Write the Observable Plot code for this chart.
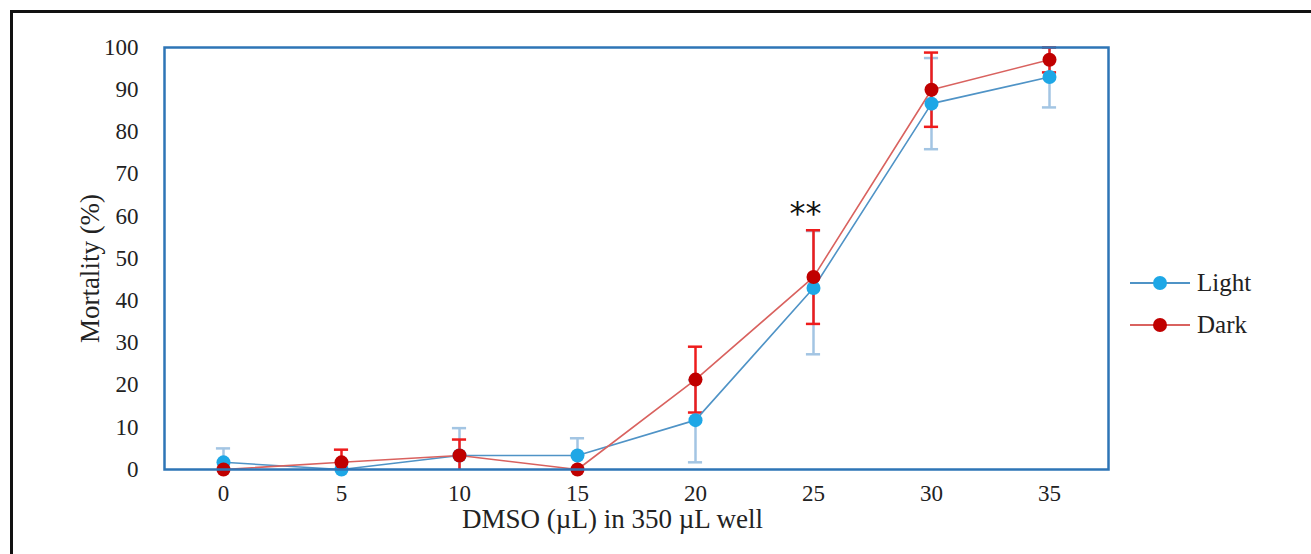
<!DOCTYPE html>
<html>
<head>
<meta charset="utf-8">
<script src="https://cdn.jsdelivr.net/npm/d3@7"></script>
<script src="https://cdn.jsdelivr.net/npm/@observablehq/plot@0.6"></script>
<style>
  html, body { margin: 0; padding: 0; background: #fff; }
  #wrap { position: relative; width: 1311px; height: 554px; overflow: hidden; font-family: "Liberation Serif", "DejaVu Serif", serif; }
  #border { position: absolute; left: 10px; top: 10px; right: -10px; bottom: -10px; border-top: 3px solid #111; border-left: 3px solid #111; pointer-events: none; }
  #legend { position: absolute; left: 1128px; top: 262px; font-size: 25px; color: #222; }
  #legend .row { display: flex; align-items: center; height: 42px; }
  #legend svg { margin-right: 5px; }
</style>
</head>
<body>
<div id="wrap">
  <div id="chart"></div>
  <div id="legend"></div>
  <div id="border"></div>
</div>
<script>
// ---- data ----
const dmso = [0, 5, 10, 15, 20, 25, 30, 35];
const lightMean  = [1.7, 0, 3.3, 3.3, 11.7, 43.0, 86.7, 93.0];
const lightErrHi = [3.3, 0, 6.5, 4.1, 9.5, 13.5, 10.8, 7.2];
const lightErrLo = [3.3, 0, 6.5, 4.1, 10.0, 15.7, 10.8, 7.2];
const darkMean   = [0, 1.7, 3.3, 0, 21.3, 45.6, 90.0, 97.1];
const darkErr    = [0, 3.0, 3.8, 0, 7.8, 11.1, 8.8, 3.0];
const seriesNames = ["Light", "Dark"];
const yTicks = [0, 10, 20, 30, 40, 50, 60, 70, 80, 90, 100];
const xTitle = "DMSO (\u00b5L) in 350 \u00b5L well";
const yTitle = "Mortality (%)";
const annotations = [{x: 25, series: "Dark", text: "**"}];

const colors = {
  Light: {line: "#4f93c6", dot: "#1ea7e6", err: "#a3c5e3"},
  Dark:  {line: "#d9625f", dot: "#c00000", err: "#ee1c1c"}
};

const clamp = v => Math.max(0, Math.min(100, v));
const rows = [];
dmso.forEach((x, i) => {
  rows.push({series: "Light", x, y: lightMean[i], lo: clamp(lightMean[i] - lightErrLo[i]), hi: clamp(lightMean[i] + lightErrHi[i]), err: lightErrLo[i] + lightErrHi[i]});
  rows.push({series: "Dark", x, y: darkMean[i], lo: clamp(darkMean[i] - darkErr[i]), hi: clamp(darkMean[i] + darkErr[i]), err: darkErr[i]});
});
const light = rows.filter(d => d.series === "Light");
const dark = rows.filter(d => d.series === "Dark");
const capHalf = 0.3;

function errMarks(data, c) {
  const withErr = data.filter(d => d.err > 0);
  return [
    Plot.ruleX(withErr, {x: "x", y1: "lo", y2: "hi", stroke: c.err, strokeWidth: 2.5}),
    Plot.ruleY(withErr.filter(d => d.hi > d.y), {x1: d => d.x - capHalf, x2: d => d.x + capHalf, y: "hi", stroke: c.err, strokeWidth: 2.5}),
    Plot.ruleY(withErr.filter(d => d.lo < d.y && d.lo > 0), {x1: d => d.x - capHalf, x2: d => d.x + capHalf, y: "lo", stroke: c.err, strokeWidth: 2.5})
  ];
}

const ann = annotations.map(a => {
  const r = rows.find(d => d.series === a.series && d.x === a.x);
  return {x: a.x, y: r.hi, text: a.text};
});

const chart = Plot.plot({
  width: 1311,
  height: 554,
  marginLeft: 164,
  marginRight: 203,
  marginTop: 47,
  marginBottom: 85,
  style: {fontFamily: "'Liberation Serif', 'DejaVu Serif', serif", fontSize: "23px", color: "#222", background: "transparent", overflow: "visible"},
  x: {domain: [-2.5, 37.5]},
  y: {domain: [0, 100]},
  marks: [
    ...errMarks(light, colors.Light),
    ...errMarks(dark, colors.Dark),
    Plot.line(light, {x: "x", y: "y", stroke: colors.Light.line, strokeWidth: 1.6}),
    Plot.line(dark, {x: "x", y: "y", stroke: colors.Dark.line, strokeWidth: 1.6}),
    Plot.dot(light, {x: "x", y: "y", r: 7, fill: colors.Light.dot}),
    Plot.dot(dark, {x: "x", y: "y", r: 7, fill: colors.Dark.dot}),
    Plot.text(ann, {x: "x", y: "y", text: "text", dy: -16, dx: -8, fontSize: 32, fill: "#111", fontFamily: "'DejaVu Sans', sans-serif", letterSpacing: "4px"}),
    Plot.frame({stroke: "#2e75b6", strokeWidth: 2.5}),
    Plot.axisX({ticks: dmso, tickSize: 0, tickPadding: 15, fontSize: 23, label: null, fill: "#222"}),
    Plot.axisY({ticks: yTicks, tickSize: 0, tickPadding: 26, fontSize: 23, label: null, fill: "#222"}),
    Plot.text([xTitle], {frameAnchor: "bottom", text: d => d, lineAnchor: "top", dy: 39, dx: -24, fontSize: 27, fill: "#222"}),
    Plot.text([yTitle], {frameAnchor: "left", text: d => d, textAnchor: "middle", rotate: -90, dx: -74, dy: 10, fontSize: 27, fill: "#222"})
  ]
});
document.getElementById("chart").appendChild(chart);

// legend
const legend = document.getElementById("legend");
seriesNames.forEach(name => {
  const c = colors[name];
  const row = document.createElement("div");
  row.className = "row";
  row.innerHTML = `<svg width="64" height="20"><line x1="2" x2="62" y1="10" y2="10" stroke="${c.line}" stroke-width="2"/><circle cx="32" cy="10" r="7" fill="${c.dot}"/></svg><span>${name}</span>`;
  legend.appendChild(row);
});
</script>
</body>
</html>
